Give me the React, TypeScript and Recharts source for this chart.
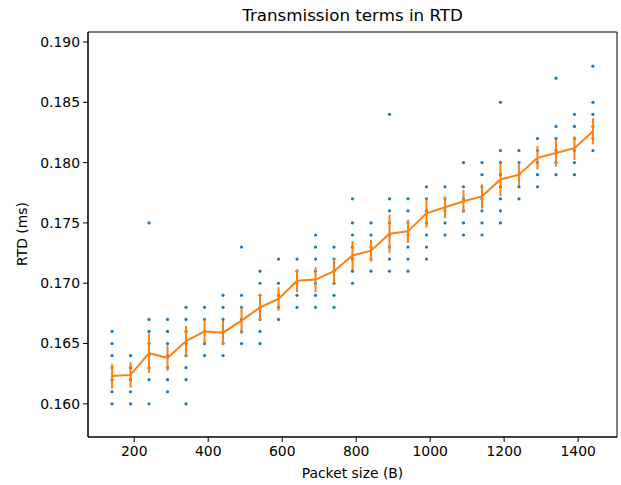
import React from "react";
import {
  ComposedChart,
  XAxis,
  YAxis,
  Scatter,
  Line,
  ErrorBar,
  ReferenceArea,
} from "recharts";

// packet sizes (B) of each measured column
const packetSizes = [
  140, 190, 240, 290, 340, 390, 440, 490, 540, 590, 640, 690, 740, 790, 840,
  890, 940, 990, 1040, 1090, 1140, 1190, 1240, 1290, 1340, 1390, 1440,
];

// individual RTD samples (ms), distinct levels seen in each column
const samples = [
  [0.16, 0.161, 0.162, 0.163, 0.164, 0.165, 0.166],
  [0.16, 0.161, 0.162, 0.163, 0.164],
  [0.16, 0.162, 0.163, 0.164, 0.165, 0.166, 0.167, 0.175],
  [0.161, 0.162, 0.163, 0.164, 0.165, 0.166, 0.167],
  [0.16, 0.162, 0.163, 0.164, 0.165, 0.166, 0.167, 0.168],
  [0.164, 0.165, 0.166, 0.167, 0.168],
  [0.164, 0.165, 0.166, 0.167, 0.168, 0.169],
  [0.165, 0.166, 0.167, 0.168, 0.169, 0.173],
  [0.165, 0.166, 0.167, 0.168, 0.169, 0.17, 0.171],
  [0.167, 0.168, 0.169, 0.17, 0.172],
  [0.168, 0.169, 0.17, 0.171, 0.172],
  [0.168, 0.169, 0.17, 0.171, 0.172, 0.173, 0.174],
  [0.168, 0.169, 0.17, 0.171, 0.172, 0.173],
  [0.17, 0.171, 0.172, 0.173, 0.174, 0.175, 0.177],
  [0.171, 0.172, 0.173, 0.174, 0.175],
  [0.171, 0.172, 0.173, 0.174, 0.175, 0.176, 0.177, 0.184],
  [0.171, 0.172, 0.173, 0.174, 0.175, 0.176, 0.177],
  [0.172, 0.173, 0.174, 0.175, 0.176, 0.177, 0.178],
  [0.174, 0.175, 0.176, 0.177, 0.178],
  [0.174, 0.175, 0.176, 0.177, 0.178, 0.18],
  [0.174, 0.175, 0.176, 0.177, 0.178, 0.179, 0.18],
  [0.175, 0.176, 0.177, 0.178, 0.179, 0.18, 0.181, 0.185],
  [0.177, 0.178, 0.179, 0.18, 0.181],
  [0.178, 0.179, 0.18, 0.181, 0.182],
  [0.179, 0.18, 0.181, 0.182, 0.183, 0.187],
  [0.179, 0.18, 0.181, 0.182, 0.183, 0.184],
  [0.181, 0.182, 0.183, 0.184, 0.185, 0.188],
];

// mean RTD per packet size
const means = [
  0.1623, 0.1624, 0.1642, 0.1638, 0.1652, 0.166, 0.1659, 0.1669, 0.168, 0.1687,
  0.1702, 0.1703, 0.171, 0.1723, 0.1727, 0.1741, 0.1743, 0.1758, 0.1763,
  0.1768, 0.1772, 0.1786, 0.179, 0.1804, 0.1808, 0.1812, 0.1826,
];

// half length of the error bar
const errors = [
  0.00102, 0.00106, 0.00163, 0.00106, 0.00126, 0.001, 0.001, 0.0011, 0.0011,
  0.00097, 0.00093, 0.00104, 0.001, 0.0012, 0.00091, 0.00159, 0.00097,
  0.00118, 0.0009, 0.00095, 0.001, 0.00138, 0.00094, 0.00097, 0.00113,
  0.00097, 0.00108,
];

const xTicks = [200, 400, 600, 800, 1000, 1200, 1400];
const yTicks = [0.16, 0.165, 0.17, 0.175, 0.18, 0.185, 0.19];

const X_DOMAIN: [number, number] = [75, 1505];
const Y_DOMAIN: [number, number] = [0.15725, 0.19083];

const scatterData = packetSizes.flatMap((x, i) =>
  samples[i].map((y) => ({ x, y }))
);
const meanData = packetSizes.map((x, i) => ({
  x,
  mean: means[i],
  err: errors[i],
}));

const FONT = "'DejaVu Sans', sans-serif";
const tickStyle = { fontSize: 13.9, fill: "#000", fontFamily: FONT };

const Dot = (props: any) => (
  <circle cx={props.cx} cy={props.cy} r={1.6} fill="#1f77b4" />
);

export default function App() {
  return (
    <div
      style={{
        position: "absolute",
        left: 0,
        top: 0,
        width: 621,
        height: 485,
        background: "#fff",
        fontFamily: FONT,
        color: "#000",
      }}
    >
      <ComposedChart
        width={621}
        height={485}
        margin={{ top: 32, right: 4, bottom: 0, left: 0 }}
      >
        <XAxis
          dataKey="x"
          type="number"
          domain={X_DOMAIN}
          ticks={xTicks}
          allowDataOverflow
          height={48}
          tick={tickStyle}
          tickSize={5}
          tickMargin={4}
          axisLine={{ stroke: "#000" }}
          tickLine={{ stroke: "#000" }}
        />
        <YAxis
          type="number"
          domain={Y_DOMAIN}
          ticks={yTicks}
          allowDataOverflow
          width={88}
          tick={tickStyle}
          tickSize={5}
          tickMargin={3}
          tickFormatter={(v: number) => v.toFixed(3)}
          axisLine={{ stroke: "#000" }}
          tickLine={{ stroke: "#000" }}
        />
        <ReferenceArea
          x1={X_DOMAIN[0]}
          x2={X_DOMAIN[1]}
          y1={Y_DOMAIN[0]}
          y2={Y_DOMAIN[1]}
          fill="none"
          stroke="#000"
          strokeWidth={1}
          fillOpacity={0}
          ifOverflow="visible"
        />
        <Scatter
          data={scatterData}
          dataKey="y"
          shape={Dot}
          zIndex={100}
          isAnimationActive={false}
        />
        <Line
          data={meanData}
          dataKey="mean"
          type="linear"
          stroke="#ff7f0e"
          strokeWidth={2}
          dot={false}
          activeDot={false}
          zIndex={700}
          isAnimationActive={false}
        >
          <ErrorBar
            dataKey="err"
            direction="y"
            width={0}
            stroke="#ff7f0e"
            strokeWidth={2}
            zIndex={800}
            isAnimationActive={false}
          />
        </Line>
      </ComposedChart>
      <div
        style={{
          position: "absolute",
          left: 88,
          width: 529,
          top: 5,
          textAlign: "center",
          fontSize: 16.7,
          lineHeight: "20px",
        }}
      >
        Transmission terms in RTD
      </div>
      <div
        style={{
          position: "absolute",
          left: 88,
          width: 529,
          top: 465,
          textAlign: "center",
          fontSize: 13.9,
          lineHeight: "17px",
        }}
      >
        Packet size (B)
      </div>
      <div
        style={{
          position: "absolute",
          left: 22,
          top: 234,
          transform: "translate(-50%, -50%) rotate(-90deg)",
          whiteSpace: "nowrap",
          fontSize: 13.9,
          lineHeight: "17px",
        }}
      >
        RTD (ms)
      </div>
    </div>
  );
}
